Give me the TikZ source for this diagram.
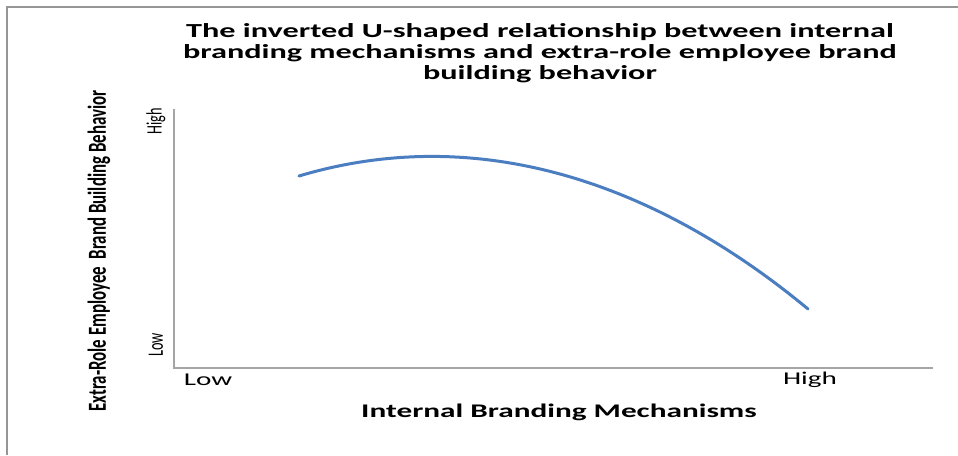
\documentclass[tikz,border=0pt]{standalone}
\usepackage{fontspec}
\setmainfont{Carlito}
\newfontfamily\widefont[FakeStretch=1.62]{Carlito}
\newfontfamily\tallfont[FakeStretch=0.65]{Carlito}
\usetikzlibrary{positioning}
\definecolor{framegray}{RGB}{150,150,150}
\definecolor{axisgray}{RGB}{165,165,165}
\definecolor{curveblue}{RGB}{74,126,193}

\begin{document}
\begin{tikzpicture}[x=1pt,y=-1pt,
    headtext/.style={inner sep=0pt, align=center, font=\widefont\bfseries\fontsize{19.3}{21}\selectfont},
    ticktext/.style={inner sep=0pt, font=\widefont\fontsize{18}{20}\selectfont},
    sidetext/.style={inner sep=0pt, rotate=90, font=\tallfont\fontsize{22}{24}\selectfont}]
\useasboundingbox (0,0) rectangle (958,455);
\fill[white] (0,0) rectangle (958,455);

% frame of the page
\draw[framegray, line width=2pt] (958,7) -- (7,7) -- (7,455);

% axes
\coordinate (O) at (174,368);
\coordinate (ytop) at (174,109);
\coordinate (xend) at (933,368);
\draw[axisgray, line width=1.2pt] (ytop) -- (O) -- (xend);

% inverted U
\coordinate (start) at (299,176);
\coordinate (stop) at (808,309);
\draw[curveblue, line width=3pt, line cap=round] (start) .. controls (473,124) and (650,178) .. (stop);

% texts
\node[headtext, font=\widefont\bfseries\fontsize{19.9}{21}\selectfont] (title) at (540,53) {The inverted U-shaped relationship between internal\\branding mechanisms and extra-role employee brand\\building behavior};
\node[ticktext] (xlow) at (208,380) {Low};
\node[ticktext] (xhigh) at (810,380) {High};
\node[headtext] (xtitle) at (559,412) {Internal Branding Mechanisms};
\node[sidetext] (ylow) at (156,345) {Low};
\node[sidetext] (yhigh) at (156,121) {High};
\node[sidetext, font=\tallfont\bfseries\fontsize{26}{28}\selectfont] (ytitle) at (99,251) {Extra-Role Employee\ \ Brand Building Behavior};
\end{tikzpicture}
\end{document}
